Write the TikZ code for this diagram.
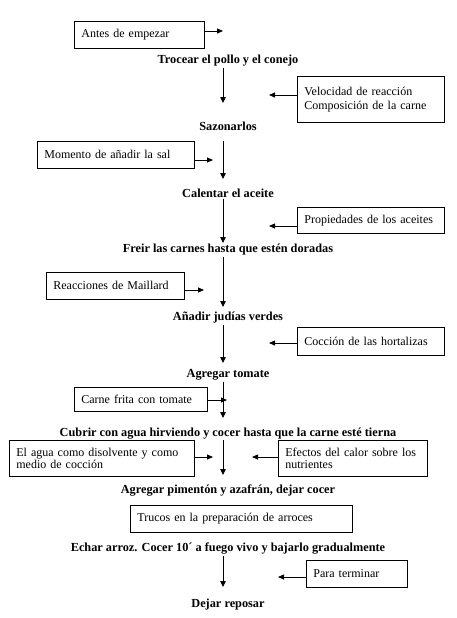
\documentclass[tikz,border=0pt]{standalone}
\usepackage{fontspec}
\setmainfont{Liberation Serif}
\usetikzlibrary{arrows.meta,positioning,calc}
\tikzset{every picture/.style={line width=0.75pt}}

\begin{document}
\begin{tikzpicture}[
    x=1pt,y=-1pt,
    paso/.style={font=\fontsize{12.3}{14}\selectfont\bfseries,inner sep=1pt},
    nota/.style={draw,font=\fontsize{12}{13.5}\selectfont,align=left,inner xsep=7pt,inner ysep=2pt,anchor=north west},
    flujo/.style={-{Triangle[length=6pt,width=5.5pt]},line width=0.8pt},
    lado/.style={-{Triangle[length=6pt,width=5pt]},line width=0.8pt}
]
    \useasboundingbox (0,0) rectangle (457,618);

    % Pasos de la receta
    \node[paso] (trocear)  at (228,61)  {Trocear el pollo y el conejo};
    \node[paso] (sazonar)  at (228,126) {Sazonarlos};
    \node[paso] (calentar) at (228,193) {Calentar el aceite};
    \node[paso] (freir)    at (228,250) {Freir las carnes hasta que estén doradas};
    \node[paso] (judias)   at (228,318) {Añadir judías verdes};
    \node[paso] (tomate)   at (228,375) {Agregar tomate};
    \node[paso] (cubrir)   at (228,434) {Cubrir con agua hirviendo y cocer hasta que la carne esté tierna};
    \node[paso] (pimenton) at (228,491) {Agregar pimentón y azafrán, dejar cocer};
    \node[paso] (arroz)    at (228,549) {Echar arroz. Cocer 10´ a fuego vivo y bajarlo gradualmente};
    \node[paso] (reposar)  at (228,605) {Dejar reposar};

    % Cuadros de notas
    \node[nota,minimum width=130,minimum height=27,text width=116] (antes) at (74,21) {Antes de empezar};
    \node[nota,minimum width=147,minimum height=46,text width=133] (velocidad) at (297,76) {Velocidad de reacción\\Composición de la carne};
    \node[nota,minimum width=157,minimum height=27,text width=143] (momento) at (37,141) {Momento de añadir la sal};
    \node[nota,minimum width=147,minimum height=26,text width=133] (aceites) at (297,207) {Propiedades de los aceites};
    \node[nota,minimum width=138,minimum height=27,text width=124] (maillard) at (46,272) {Reacciones de Maillard};
    \node[nota,minimum width=147,minimum height=28,text width=133] (hortalizas) at (297,327) {Cocción de las hortalizas};
    \node[nota,minimum width=133,minimum height=24,text width=119] (frita) at (74,387) {Carne frita con tomate};
    \node[nota,minimum width=185,minimum height=36,text width=171,font=\fontsize{12}{12.5}\selectfont] (agua) at (9,440) {El agua como disolvente y como\\medio de cocción};
    \node[nota,minimum width=149,minimum height=36,text width=135,font=\fontsize{12}{12.5}\selectfont] (calor) at (278,440) {Efectos del calor sobre los\\nutrientes};
    \node[nota,minimum width=222,minimum height=27,text width=208] (trucos) at (130,505) {Trucos en la preparación de arroces};
    \node[nota,minimum width=101,minimum height=27,text width=87] (terminar) at (306,560) {Para terminar};

    % Puntas de las flechas
    \coordinate (v1) at (223,103);
    \coordinate (v2) at (223,179);
    \coordinate (v3) at (223,243);
    \coordinate (v4) at (223,307);
    \coordinate (v5) at (223,363);
    \coordinate (v6) at (223,418);
    \coordinate (v7) at (223,475);
    \coordinate (v8) at (223,587);
    \coordinate (s1) at (223,31);
    \coordinate (s2) at (269,95);
    \coordinate (s3) at (213,160);
    \coordinate (s4) at (269,226);
    \coordinate (s5) at (204,290);
    \coordinate (s6) at (269,343);
    \coordinate (s7) at (227,400);
    \coordinate (s8) at (213,457);
    \coordinate (s9) at (252,457);
    \coordinate (s10) at (278,577);

    % Flechas verticales
    \draw[flujo] (trocear.south -| v1) -- (v1);
    \draw[flujo] (momento.north -| v2) -- (v2);
    \draw[flujo] (calentar.south -| v3) -- (v3);
    \draw[flujo] (freir.south -| v4) -- (v4);
    \draw[flujo] (judias.south -| v5) -- (v5);
    \draw[flujo] (tomate.south -| v6) -- (v6);
    \draw[flujo] (agua.north -| v7) -- (v7);
    \draw[flujo] (arroz.south -| v8) -- (v8);

    % Flechas laterales
    \draw[lado] (antes.east |- s1) -- (s1);
    \draw[lado] (velocidad.west |- s2) -- (s2);
    \draw[lado] (momento.east |- s3) -- (s3);
    \draw[lado] (aceites.west |- s4) -- (s4);
    \draw[lado] (maillard.east |- s5) -- (s5);
    \draw[lado] (hortalizas.west |- s6) -- (s6);
    \draw[lado] (frita.east |- s7) -- (s7);
    \draw[lado] (agua.east |- s8) -- (s8);
    \draw[lado] (calor.west |- s9) -- (s9);
    \draw[lado] (terminar.west |- s10) -- (s10);
\end{tikzpicture}
\end{document}
